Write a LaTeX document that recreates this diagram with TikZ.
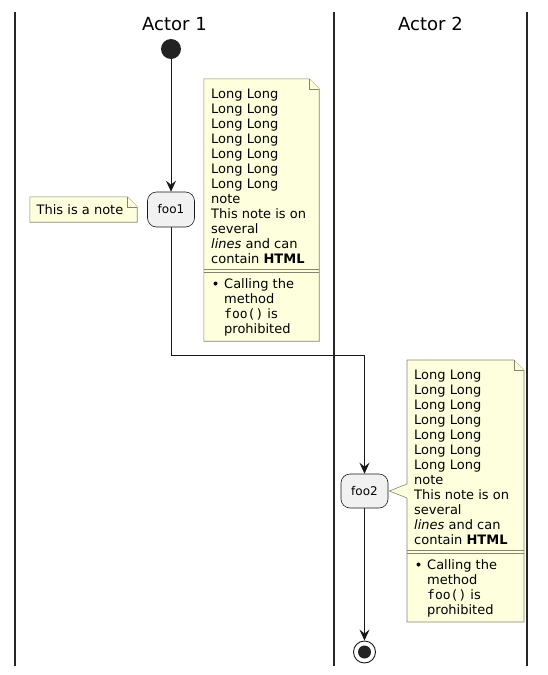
\documentclass[tikz,border=0pt]{standalone}
\usepackage{fontspec}
\setmainfont{DejaVu Sans}
\setmonofont{DejaVu Sans Mono}
\usetikzlibrary{arrows.meta}
\definecolor{notefill}{HTML}{FEFFDD}
\definecolor{noteline}{HTML}{85856E}
\definecolor{actfill}{HTML}{F1F1F1}
\definecolor{actline}{HTML}{181818}
\definecolor{startc}{HTML}{222222}
\newcommand\dognote[1]{%
  \filldraw[notebox] (#1.north west) -- ([xshift=-10pt]#1.north east) -- ([yshift=-10pt]#1.north east) -- (#1.south east) -- (#1.south west) -- cycle;
  \draw[notebox] ([xshift=-10pt]#1.north east) -- ([xshift=-10pt,yshift=-10pt]#1.north east) -- ([yshift=-10pt]#1.north east);}
\begin{document}
\begin{tikzpicture}[x=1pt,y=-1pt,
  lane/.style={line width=1.3pt, draw=black!85},
  title/.style={font=\fontsize{18}{20}\selectfont},
  activity/.style={rectangle, rounded corners=9pt, draw=actline, fill=actfill, line width=0.6pt,
     minimum width=47pt, minimum height=35pt, inner sep=0pt, font=\fontsize{12}{14}\selectfont},
  notebox/.style={draw=noteline, fill=notefill, line width=0.6pt},
  frame/.style={rectangle, inner sep=0pt, draw=none},
  notetext/.style={anchor=base west, inner sep=0pt, align=left, font=\fontsize{13}{15}\selectfont},
  bul/.style={circle, fill=black, inner sep=0pt, minimum size=4pt},
  flow/.style={line width=0.9pt, draw=actline, -{Stealth[length=11pt,width=10pt,inset=4pt]}},
  sep/.style={draw=noteline, line width=0.6pt}]
\useasboundingbox (0,0) rectangle (547,675);

% swimlanes
\coordinate (l1t) at (15,12);  \coordinate (l1b) at (15,666);
\coordinate (l2t) at (334,12); \coordinate (l2b) at (334,666);
\coordinate (l3t) at (527,12); \coordinate (l3b) at (527,666);
\draw[lane] (l1t) -- (l1b);
\draw[lane] (l2t) -- (l2b);
\draw[lane] (l3t) -- (l3b);
\node[title] (actor1) at (174.5,24) {Actor 1};
\node[title] (actor2) at (430.5,24) {Actor 2};

% activities
\node[circle, fill=startc, minimum size=20pt, inner sep=0pt] (start) at (171,49) {};
\node[activity] (foo1) at (171,209.5) {foo1};
\node[activity, minimum height=34pt] (foo2) at (364.5,491) {foo2};
\node[circle, draw=actline, fill=white, line width=0.9pt, minimum size=22pt, inner sep=0pt] (end) at (364.5,652) {};
\node[circle, fill=startc, minimum size=13pt, inner sep=0pt] (endin) at (end) {};

% connectors
\draw[flow] (start) -- (foo1);
\coordinate (bend) at (171,355);
\draw[flow] (foo1.south) -- (bend) -| (foo2.north);
\draw[flow] (foo2) -- (end);

% small note
\node[frame, minimum width=107pt, minimum height=25pt] (n0) at (83.5,209.5) {};
\dognote{n0}
\node[anchor=west, inner sep=0pt, font=\fontsize{13}{15}\selectfont] (n0t) at (36.5,209.5) {This is a note};

% note 1
\node[frame, minimum width=115pt, minimum height=262pt] (n1) at (261.5,210) {};
\dognote{n1}
\node[notetext] (n1t) at (211,263) {Long Long\\Long Long\\Long Long\\Long Long\\Long Long\\Long Long\\Long Long\\note\\This note is on\\several\\\textit{lines} and can\\contain \textbf{HTML}};
\draw[sep] (n1.west |- 0,269.5) -- (n1.east |- 0,269.5);
\draw[sep] (n1.west |- 0,272.5) -- (n1.east |- 0,272.5);
\node[bul] (n1b) at (215.5,283.5) {};
\node[notetext] (n1l) at (224,333) {Calling the\\method\\\texttt{foo()} is\\prohibited};

% note 2 with pointer
\coordinate (n2nw) at (407,360);
\coordinate (n2ne) at (524,360);
\coordinate (n2sw) at (407,622);
\coordinate (n2se) at (524,622);
\coordinate (tip) at ([xshift=1pt]foo2.east);
\filldraw[notebox] (n2nw) -- ([xshift=-10pt]n2ne) -- ([yshift=-10pt]n2ne) -- (n2se) -- (n2sw) -- (407,498) -- (tip) -- (407,484) -- cycle;
\draw[notebox] ([xshift=-10pt]n2ne) -- ([xshift=-10pt,yshift=-10pt]n2ne) -- ([yshift=-10pt]n2ne);
\node[notetext] (n2t) at (414,544) {Long Long\\Long Long\\Long Long\\Long Long\\Long Long\\Long Long\\Long Long\\note\\This note is on\\several\\\textit{lines} and can\\contain \textbf{HTML}};
\draw[sep] (407,550.5) -- (524,550.5);
\draw[sep] (407,553.5) -- (524,553.5);
\node[bul] (n2b) at (418.5,564.5) {};
\node[notetext] (n2l) at (427,614) {Calling the\\method\\\texttt{foo()} is\\prohibited};
\end{tikzpicture}
\end{document}
